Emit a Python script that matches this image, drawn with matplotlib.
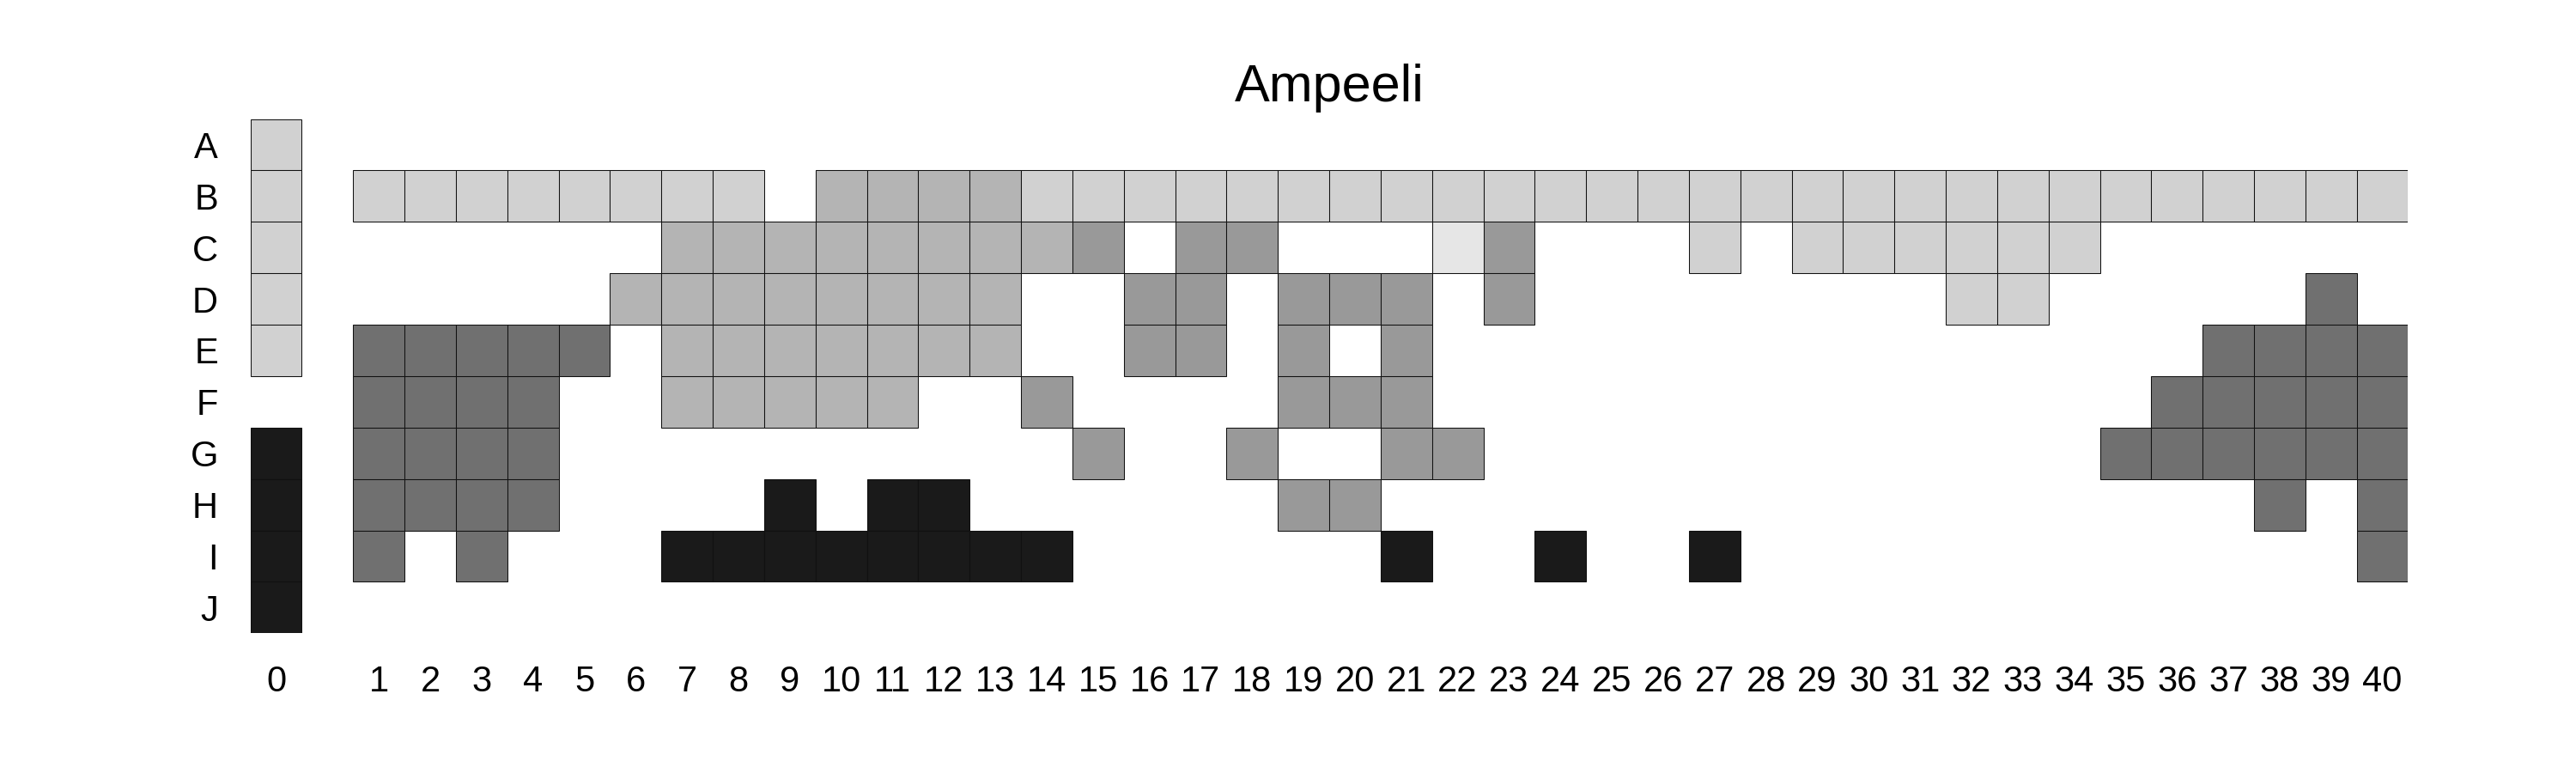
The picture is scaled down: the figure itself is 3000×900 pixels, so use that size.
import matplotlib
matplotlib.use("Agg")
import matplotlib.pyplot as plt

plt.rcParams['font.family'] = ['Liberation Sans', 'DejaVu Sans']

title = "Ampeeli"
row_labels = ["A", "B", "C", "D", "E", "F", "G", "H", "I", "J"]
col_labels = [str(c) for c in range(41)]

# grey level per cell: column 0, then columns 1-40 in groups of five
# 0 = empty, 1 = lightest ... 6 = black
rows = [
    "2 00000 00000 00000 00000 00000 00000 00000 00000",  # A
    "2 22222 22203 33322 22222 22222 22222 22222 22222",  # B
    "2 00000 03333 33334 04400 01400 02022 22220 00000",  # C
    "2 00000 33333 33300 44044 40400 00000 02200 00050",  # D
    "2 55555 03333 33300 44040 40000 00000 00000 05555",  # E
    "0 55550 03333 30040 00044 40000 00000 00000 55555",  # F
    "6 55550 00000 00004 00400 44000 00000 00005 55555",  # G
    "6 55550 00060 66000 00044 00000 00000 00000 00505",  # H
    "6 50500 06666 66660 00000 60060 06000 00000 00005",  # I
    "6 00000 00000 00000 00000 00000 00000 00000 00000",  # J
]

level_colors = {1: "#e6e6e6", 2: "#d1d1d1", 3: "#b4b4b4",
                4: "#999999", 5: "#707070", 6: "#1a1a1a"}

# column 0 sits apart from the others
col_pos = [-1] + list(range(1, 41))

fig = plt.figure(figsize=(30, 9), dpi=100)
ax = fig.add_axes([0.0972, 0.18078, 0.93483 - 0.0972, 0.84611 - 0.18078])

for ri, row in enumerate(rows):
    levels = [int(ch) for ch in row.replace(" ", "")]
    for ci, lv in enumerate(levels):
        if lv == 0:
            continue
        ax.bar(col_pos[ci], 1.0, bottom=ri - 0.5, width=1.0,
               color=level_colors[lv], edgecolor="#111111", linewidth=0.75)

ax.set_xlim(-1.5, 40.5)
ax.set_ylim(9.5, -0.5)
for s in ax.spines.values():
    s.set_visible(False)

ax.set_yticks(range(len(row_labels)))
ax.set_yticklabels(row_labels, fontsize=30)
ax.set_xticks(col_pos)
ax.set_xticklabels(col_labels, fontsize=30)
ax.tick_params(axis="y", length=0, pad=27)
ax.tick_params(axis="x", length=0, pad=26.4)

ax.set_title(title, fontsize=44, pad=14.5)

fig.savefig("out.png", dpi=100, facecolor="white")
